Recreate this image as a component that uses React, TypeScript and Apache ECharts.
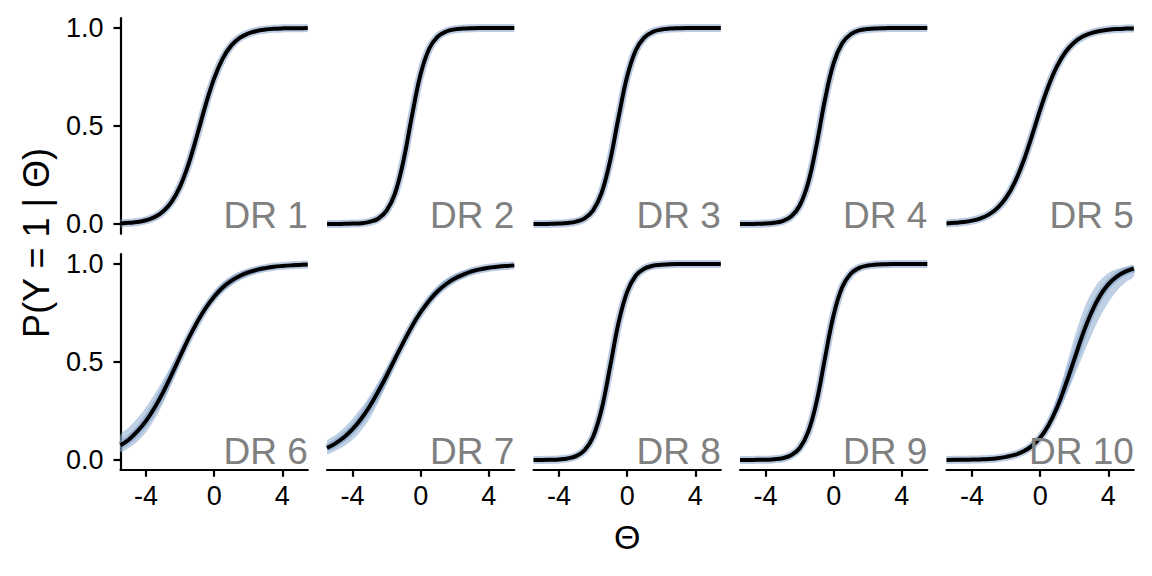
import React, { useEffect, useRef } from "react";
import * as echarts from "echarts";

// ---- data ----
const theta = [-5.5, -5, -4.5, -4, -3.5, -3, -2.5, -2, -1.5, -1, -0.5, 0, 0.5, 1, 1.5, 2, 2.5, 3, 3.5, 4, 4.5, 5, 5.5];
const panelLabels = ["DR 1", "DR 2", "DR 3", "DR 4", "DR 5", "DR 6", "DR 7", "DR 8", "DR 9", "DR 10"];
const xTicks = [-4, 0, 4];
const yTicks = [0, 0.5, 1];

const dr1 = [0.003, 0.006, 0.01, 0.019, 0.035, 0.064, 0.113, 0.192, 0.307, 0.453, 0.608, 0.743, 0.844, 0.91, 0.95, 0.972, 0.985, 0.992, 0.996, 0.998, 0.999, 0.999, 1.0];
const dr2 = [0.0, 0.0, 0.001, 0.002, 0.004, 0.011, 0.027, 0.068, 0.158, 0.327, 0.557, 0.765, 0.894, 0.956, 0.982, 0.993, 0.997, 0.999, 1, 1, 1, 1, 1];
const dr3 = [0.0, 0.0, 0.001, 0.002, 0.005, 0.012, 0.029, 0.07, 0.159, 0.323, 0.546, 0.752, 0.885, 0.951, 0.98, 0.992, 0.997, 0.999, 1, 1, 1, 1, 1];
const dr4 = [0.0, 0.0, 0.001, 0.002, 0.006, 0.015, 0.038, 0.093, 0.209, 0.406, 0.639, 0.821, 0.922, 0.968, 0.988, 0.995, 0.998, 0.999, 1, 1, 1, 1, 1];
const dr5 = [0.003, 0.006, 0.01, 0.017, 0.029, 0.049, 0.082, 0.134, 0.211, 0.316, 0.445, 0.582, 0.707, 0.807, 0.879, 0.926, 0.956, 0.974, 0.985, 0.991, 0.995, 0.997, 0.998];
const dr6 = [0.075, 0.105, 0.147, 0.2, 0.267, 0.345, 0.435, 0.528, 0.62, 0.703, 0.775, 0.833, 0.88, 0.914, 0.939, 0.957, 0.97, 0.979, 0.986, 0.99, 0.993, 0.995, 0.997];
const dr7 = [0.061, 0.085, 0.116, 0.157, 0.209, 0.273, 0.348, 0.43, 0.517, 0.603, 0.684, 0.754, 0.813, 0.861, 0.898, 0.926, 0.946, 0.962, 0.973, 0.981, 0.986, 0.99, 0.993];
const dr8 = [0.0, 0.0, 0.001, 0.003, 0.008, 0.02, 0.05, 0.119, 0.259, 0.476, 0.702, 0.858, 0.94, 0.976, 0.991, 0.996, 0.999, 1, 1, 1, 1, 1, 1];
const dr9 = [0.0, 0.0, 0.001, 0.001, 0.004, 0.009, 0.024, 0.06, 0.142, 0.298, 0.524, 0.74, 0.881, 0.95, 0.98, 0.992, 0.997, 0.999, 1, 1, 1, 1, 1];
const dr10 = [0.0, 0.001, 0.001, 0.002, 0.003, 0.005, 0.009, 0.016, 0.026, 0.043, 0.071, 0.114, 0.179, 0.269, 0.385, 0.512, 0.641, 0.75, 0.836, 0.896, 0.936, 0.961, 0.977];

// spread of the posterior draws (lower / upper envelope) where it is wide
const dr6Lo = [0.041, 0.063, 0.095, 0.142, 0.206, 0.289, 0.389, 0.5, 0.608, 0.695, 0.765, 0.816, 0.858, 0.892, 0.918, 0.939, 0.954, 0.966, 0.975, 0.981, 0.986, 0.99, 0.993];
const dr6Hi = [0.128, 0.167, 0.214, 0.271, 0.336, 0.408, 0.485, 0.562, 0.636, 0.711, 0.794, 0.858, 0.905, 0.937, 0.959, 0.973, 0.983, 0.989, 0.993, 0.995, 0.997, 0.998, 0.999];
const dr7Lo = [0.031, 0.047, 0.07, 0.103, 0.149, 0.211, 0.291, 0.385, 0.49, 0.594, 0.676, 0.746, 0.799, 0.843, 0.879, 0.907, 0.93, 0.947, 0.96, 0.97, 0.978, 0.983, 0.988];
const dr7Hi = [0.098, 0.128, 0.165, 0.211, 0.265, 0.327, 0.397, 0.47, 0.545, 0.618, 0.692, 0.774, 0.84, 0.889, 0.925, 0.949, 0.966, 0.978, 0.985, 0.99, 0.994, 0.996, 0.997];
const dr10Lo = [0.0, 0.0, 0.001, 0.001, 0.002, 0.003, 0.006, 0.011, 0.02, 0.037, 0.066, 0.108, 0.172, 0.241, 0.327, 0.426, 0.532, 0.634, 0.727, 0.802, 0.862, 0.905, 0.936];
const dr10Hi = [0.001, 0.002, 0.003, 0.005, 0.007, 0.01, 0.016, 0.024, 0.037, 0.055, 0.082, 0.124, 0.202, 0.321, 0.469, 0.622, 0.755, 0.852, 0.915, 0.953, 0.974, 0.986, 0.992];

const curves = [dr1, dr2, dr3, dr4, dr5, dr6, dr7, dr8, dr9, dr10];
const bandLo: (number[] | null)[] = [null, null, null, null, null, dr6Lo, dr7Lo, null, null, dr10Lo];
const bandHi: (number[] | null)[] = [null, null, null, null, null, dr6Hi, dr7Hi, null, null, dr10Hi];

// ---- layout & style ----
const FONT = "'Liberation Sans', Arial, Helvetica, sans-serif";
const LEFT0 = 120.5;
const PITCH = 206.5;
const PW = 187.3;
const TOPS = [18.2, 254.2];
const PH = 215.6;
const BAND_FILL = "rgba(150,176,210,0.6)";
const HALO = "rgba(120,152,194,0.5)";

export default function App() {
  const ref = useRef<HTMLDivElement>(null);

  useEffect(() => {
    const chart = echarts.init(ref.current as HTMLDivElement, null, { renderer: "svg" });
    const grid: any[] = [];
    const xAxis: any[] = [];
    const yAxis: any[] = [];
    const series: any[] = [];
    const graphic: any[] = [];

    for (let k = 0; k < 10; k++) {
      const row = Math.floor(k / 5);
      const col = k % 5;
      const left = LEFT0 + col * PITCH;
      const top = TOPS[row];
      grid.push({ left, top, width: PW, height: PH, containLabel: false });

      xAxis.push({
        type: "value",
        gridIndex: k,
        min: -5.5,
        max: 5.5,
        show: row === 1,
        axisLine: { show: true, onZero: false, lineStyle: { color: "#000", width: 2.2 } },
        axisTick: { show: true, length: 7, customValues: xTicks, lineStyle: { color: "#000", width: 2.2 } },
        axisLabel: { customValues: xTicks, margin: 13, fontSize: 27, color: "#000", fontFamily: FONT },
        splitLine: { show: false },
      });
      yAxis.push({
        type: "value",
        gridIndex: k,
        min: -0.05,
        max: 1.05,
        show: col === 0,
        axisLine: { show: true, onZero: false, lineStyle: { color: "#000", width: 2.2 } },
        axisTick: { show: true, length: 7, customValues: yTicks, lineStyle: { color: "#000", width: 2.2 } },
        axisLabel: {
          customValues: yTicks,
          margin: 17,
          fontSize: 27,
          color: "#000",
          fontFamily: FONT,
          formatter: (v: number) => v.toFixed(1),
        },
        splitLine: { show: false },
      });

      const lo = bandLo[k];
      const hi = bandHi[k];
      if (lo && hi) {
        series.push({
          type: "custom",
          xAxisIndex: k,
          yAxisIndex: k,
          silent: true,
          clip: true,
          data: [[theta[0], lo[0]]],
          renderItem: (_params: any, api: any) => {
            const pts: number[][] = [];
            for (let i = 0; i < theta.length; i++) pts.push(api.coord([theta[i], hi[i]]));
            for (let i = theta.length - 1; i >= 0; i--) pts.push(api.coord([theta[i], lo[i]]));
            return {
              type: "polygon",
              shape: { points: pts, smooth: 0.3 },
              style: { fill: BAND_FILL, stroke: "none" },
            };
          },
        });
      }
      series.push({
        type: "line",
        xAxisIndex: k,
        yAxisIndex: k,
        symbol: "none",
        smooth: 0.4,
        silent: true,
        lineStyle: { color: HALO, width: 8 },
        data: theta.map((t, i) => [t, curves[k][i]]),
      });
      series.push({
        type: "line",
        xAxisIndex: k,
        yAxisIndex: k,
        symbol: "none",
        smooth: 0.4,
        silent: true,
        lineStyle: { color: "#000", width: 4 },
        data: theta.map((t, i) => [t, curves[k][i]]),
      });

      graphic.push({
        type: "text",
        x: left + PW,
        y: top + PH - 18.6,
        z: 100,
        style: {
          text: panelLabels[k],
          align: "right",
          verticalAlign: "middle",
          fontSize: 37,
          fill: "#808080",
          fontFamily: FONT,
        },
      });
    }

    graphic.push({
      type: "text",
      x: LEFT0 + (4 * PITCH + PW) / 2,
      y: 537,
      style: { text: "Θ", align: "center", verticalAlign: "middle", fontSize: 34, fill: "#000", fontFamily: FONT },
    });
    graphic.push({
      type: "text",
      x: 36,
      y: 243,
      rotation: Math.PI / 2,
      style: { text: "P(Y = 1 | Θ)", align: "center", verticalAlign: "middle", fontSize: 36, fill: "#000", fontFamily: FONT },
    });

    chart.setOption({
      animation: false,
      backgroundColor: "#fff",
      grid,
      xAxis,
      yAxis,
      series,
      graphic,
    });

    return () => chart.dispose();
  }, []);

  return (
    <div
      ref={ref}
      style={{ position: "fixed", left: 0, top: 0, width: 1152, height: 576, background: "#fff" }}
    />
  );
}
